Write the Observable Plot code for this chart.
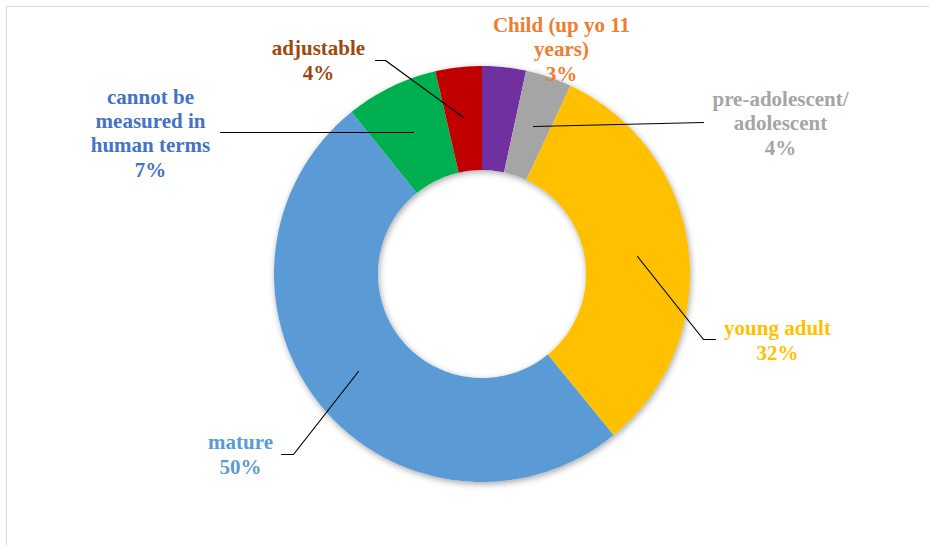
<!DOCTYPE html>
<html>
<head>
<meta charset="utf-8">
<script src="https://cdn.jsdelivr.net/npm/d3@7"></script>
<script src="https://cdn.jsdelivr.net/npm/@observablehq/plot@0.6"></script>
<style>
  html, body { margin: 0; padding: 0; background: #fff; }
  #wrap { position: relative; width: 929px; height: 545px; overflow: hidden; }
  #border { position: absolute; left: 6px; top: 6px; width: 940px; height: 560px;
            border-top: 1.5px solid #d9d9d9; border-left: 1.5px solid #d9d9d9; }
  #chart { position: absolute; left: 0; top: 0; }
  #chart text { font-family: "Liberation Serif", "Times New Roman", Times, "DejaVu Serif", serif !important; }
</style>
</head>
<body>
<div id="wrap"><div id="border"></div><div id="chart"></div></div>
<script>
// ---- data ----
const categories = ["Child (up yo 11 years)", "pre-adolescent/ adolescent", "young adult", "mature", "cannot be measured in human terms", "adjustable"];
const values = [3.4, 3.6, 32.1, 50.1, 7.2, 3.6];
const percentLabels = ["3%", "4%", "32%", "50%", "7%", "4%"];
const labelTexts = ["Child (up yo 11\nyears)", "pre-adolescent/\nadolescent", "young adult", "mature", "cannot be\nmeasured in\nhuman terms", "adjustable"];

// ---- styles / layout ----
const sliceColors = ["#7030A0", "#A5A5A5", "#FFC000", "#5B9BD5", "#00B050", "#C00000"];
const labelColors = ["#ED7D31", "#A5A5A5", "#FFC000", "#5B9BD5", "#4472C4", "#9E480E"];
const cx = 481.5, cy = 273.5, R = 208, innerFrac = 0.5;
// label anchor (x center, baseline of last line), in pixels
const labelPos = [[561, 80], [780, 154], [777, 359], [240, 473], [150, 176], [318, 79]];
// leader lines in pixels (null = none)
const leaders = [null,
  [[533, 126], [703, 122]],
  [[637, 256], [703, 339], [715, 339]],
  [[358, 371], [293, 454], [281, 454]],
  [[413, 132], [220, 132]],
  [[463, 117], [385, 60], [375, 60]]];

const px2x = (px) => (px - cx) / R;
const px2y = (py) => (cy - py) / R;

// build donut slice polygons in data space (angle clockwise from top)
const total = d3.sum(values);
function ringPoints(a0, a1, name) {
  const pts = [];
  const n = Math.max(4, Math.ceil((a1 - a0) / (Math.PI / 180)));
  for (let i = 0; i <= n; i++) {
    const a = a0 + (a1 - a0) * i / n;
    pts.push({name, x: Math.sin(a), y: Math.cos(a)});
  }
  for (let i = n; i >= 0; i--) {
    const a = a0 + (a1 - a0) * i / n;
    pts.push({name, x: innerFrac * Math.sin(a), y: innerFrac * Math.cos(a)});
  }
  return pts;
}
let acc = 0;
const slices = categories.map((c, i) => {
  const a0 = acc / total * 2 * Math.PI;
  acc += values[i];
  const a1 = acc / total * 2 * Math.PI;
  return ringPoints(a0, a1, c);
});
const ring = ringPoints(0, 2 * Math.PI, "ring");

const marks = [];
marks.push(Plot.line(ring, {x: "x", y: "y", fill: "#ffffff", stroke: "none", curve: "linear"}));
slices.forEach((pts, i) => {
  marks.push(Plot.line(pts, {x: "x", y: "y", fill: sliceColors[i], stroke: "none", curve: "linear"}));
});
leaders.forEach((l) => {
  if (!l) return;
  const pts = l.map(([px, py]) => ({x: px2x(px), y: px2y(py)}));
  marks.push(Plot.line(pts, {x: "x", y: "y", stroke: "#000", strokeWidth: 1.2, curve: "linear"}));
});
categories.forEach((c, i) => {
  const [lx, ly] = labelPos[i];
  marks.push(Plot.text([{x: px2x(lx), y: px2y(ly), t: labelTexts[i] + "\n" + percentLabels[i]}], {
    x: "x", y: "y", text: "t", fill: labelColors[i], textAnchor: "middle", lineAnchor: "bottom",
    lineHeight: 1.15, fontSize: 21, fontWeight: "bold", fontFamily: "Liberation Serif"
  }));
});

const chart = Plot.plot({
  width: 929, height: 545,
  marginTop: 0, marginRight: 0, marginBottom: 0, marginLeft: 0,
  x: {domain: [-1, 1], range: [cx - R, cx + R], axis: null},
  y: {domain: [-1, 1], range: [cy + R, cy - R], axis: null},
  style: {background: "transparent", fontFamily: "Liberation Serif"},
  marks
});
const firstLine = chart.querySelector('g[aria-label="line"]');
if (firstLine) firstLine.setAttribute("style", "filter: drop-shadow(1px 2px 3px rgba(0,0,0,0.35))");
document.getElementById("chart").appendChild(chart);
</script>
</body>
</html>
